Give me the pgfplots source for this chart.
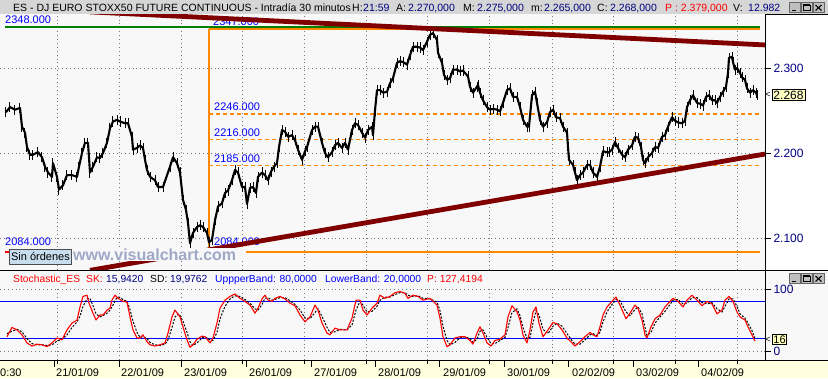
\documentclass[border=0pt]{standalone}
\usepackage{pgfplots}
\pgfplotsset{compat=1.18}
\usepackage{fontspec}
\setmainfont{Liberation Sans}
\definecolor{bg}{RGB}{248,248,248}
\definecolor{titlebg}{RGB}{214,214,214}
\definecolor{datebg}{RGB}{255,255,222}
\definecolor{navy}{RGB}{0,0,128}
\definecolor{trend}{RGB}{128,0,0}
\definecolor{fibor}{RGB}{255,136,0}
\definecolor{fibgreen}{RGB}{0,128,0}
\definecolor{wm}{RGB}{160,168,200}
\definecolor{sinbg}{RGB}{200,222,238}
\definecolor{boxy}{RGB}{255,255,192}
\definecolor{gridc}{RGB}{120,120,120}
\newcommand\fs[1]{\fontsize{#1}{#1}\selectfont}

\pgfplotstableread{
x p
6 2248
10 2254
15 2251
20 2253
22 2231
25 2224
27 2207
30 2198
33 2198
38 2201
42 2195
45 2184
48 2177
52 2172
53 2188
57 2172
59 2157
63 2162
67 2174
72 2174
77 2172
79 2184
82 2200
85 2212
88 2212
90 2177
93 2184
97 2195
100 2194
103 2200
107 2212
110 2229
113 2237
117 2239
120 2237
125 2235
128 2235
132 2219
133 2204
137 2206
140 2209
143 2206
145 2192
147 2180
150 2172
155 2168
158 2160
163 2160
170 2184
173 2195
177 2188
180 2177
183 2145
186 2133
188 2118
190 2094
193 2106
197 2113
200 2115
203 2113
207 2106
209 2095
212 2098
215 2121
218 2137
222 2141
225 2153
228 2156
232 2168
235 2180
238 2177
242 2160
245 2160
247 2140
250 2159
253 2160
256 2153
258 2172
262 2177
265 2174
268 2168
271 2178
274 2184
277 2188
279 2207
282 2227
285 2225
288 2219
292 2221
295 2215
298 2204
302 2192
305 2202
307 2207
312 2227
315 2231
318 2231
322 2212
325 2200
328 2195
332 2201
335 2209
338 2212
342 2206
345 2212
348 2204
352 2227
355 2235
358 2233
362 2224
365 2218
368 2227
372 2231
373 2221
375 2250
377 2274
380 2274
383 2271
387 2272
390 2282
393 2288
397 2306
400 2308
403 2307
407 2304
410 2315
413 2325
417 2325
420 2324
423 2321
427 2331
430 2339
433 2341
437 2333
438 2318
442 2306
444 2292
447 2286
450 2288
453 2298
457 2298
460 2296
463 2297
468 2290
470 2278
473 2271
477 2278
478 2280
480 2271
483 2262
487 2254
490 2251
493 2252
497 2251
500 2249
503 2259
507 2274
510 2276
513 2266
517 2266
520 2254
523 2239
527 2231
529 2231
532 2268
535 2272
537 2259
540 2239
543 2231
547 2236
550 2248
553 2251
556 2242
560 2241
563 2231
567 2224
568 2207
569 2192
573 2186
575 2177
577 2168
580 2174
583 2177
587 2186
590 2186
593 2177
597 2172
600 2184
603 2202
607 2201
609 2201
612 2204
615 2213
618 2206
622 2198
625 2195
628 2204
632 2209
635 2219
638 2218
641 2207
643 2192
645 2188
648 2195
652 2200
655 2207
658 2206
662 2219
665 2221
668 2231
672 2242
675 2238
678 2236
682 2235
685 2238
687 2254
690 2262
693 2268
697 2259
700 2258
703 2256
706 2266
709 2268
712 2262
715 2262
717 2259
720 2266
723 2272
726 2278
728 2294
729 2312
732 2313
733 2307
735 2298
737 2300
740 2294
742 2289
745 2286
747 2276
750 2271
753 2274
756 2271
757 2268
}\price

\pgfplotstableread{
x v
7 23
12 38
17 34
22 26
27 13
32 8
37 11
42 10
47 7
52 13
57 21
62 18
67 34
72 45
77 50
80 71
83 88
87 90
89 77
93 61
96 50
100 58
103 58
107 66
110 69
112 82
115 90
118 85
123 80
127 79
130 55
133 34
137 21
140 21
143 26
147 15
150 10
155 8
160 10
165 13
168 29
172 55
175 66
180 55
183 39
187 18
190 6
193 10
197 19
202 24
205 23
210 13
213 21
217 45
220 69
225 82
230 88
235 92
240 85
245 80
250 74
255 61
258 69
262 84
265 90
268 82
272 80
275 85
280 88
285 84
290 77
295 73
300 58
305 47
310 55
315 74
318 66
322 45
327 29
330 26
335 37
340 34
347 34
352 53
356 82
360 82
363 66
367 58
372 69
377 77
380 90
385 85
390 88
395 94
400 96
405 93
408 85
413 90
418 88
423 82
430 85
437 74
440 53
443 23
447 7
450 10
455 21
460 23
465 23
470 17
473 11
477 29
480 39
483 29
487 13
491 8
495 17
500 19
505 26
508 55
512 73
517 63
520 50
523 26
527 13
530 34
533 63
536 71
539 45
543 23
548 34
553 46
557 44
562 34
567 21
572 13
575 8
580 15
585 23
590 30
593 26
597 23
600 39
603 58
607 71
612 80
616 87
620 74
626 52
630 61
635 74
638 69
642 50
645 26
647 21
651 39
655 52
660 58
665 71
670 80
673 85
678 80
683 71
687 82
692 90
697 82
702 73
707 80
712 76
717 60
722 66
725 82
729 88
733 80
737 63
740 55
745 50
748 39
752 26
755 16
}\sk

\pgfplotstableread{
x v
7 28
12 32
17 35
22 31
27 20
32 12
37 10
42 10
47 9
52 10
57 16
62 19
67 26
72 38
77 47
80 56
83 72
87 84
90 85
93 73
96 60
100 55
103 57
107 61
110 66
113 74
116 84
119 87
123 83
127 80
130 67
133 48
137 30
140 22
143 23
147 20
150 14
155 10
160 9
165 11
168 18
172 38
175 55
179 60
183 48
187 30
190 15
193 9
197 13
202 21
205 23
210 18
213 17
217 30
220 52
225 72
230 84
235 89
240 88
245 83
250 77
255 68
258 66
262 75
265 85
268 86
272 82
275 83
280 86
285 86
290 81
295 75
300 66
305 53
310 52
315 62
318 68
322 56
327 38
330 30
335 31
340 35
347 34
352 42
356 66
360 80
363 74
367 63
372 64
377 72
380 82
385 87
390 87
395 91
400 94
405 94
408 90
413 88
418 89
423 85
430 84
437 79
440 65
443 40
447 17
450 10
455 14
460 21
465 23
470 20
473 14
477 19
480 32
483 34
487 22
491 12
495 12
500 17
505 22
508 38
512 62
517 68
520 57
523 38
527 20
530 22
533 45
536 65
539 58
543 35
548 28
553 40
557 45
562 40
567 28
572 17
575 11
580 11
585 18
590 26
593 28
597 25
600 30
603 47
607 63
612 75
616 83
620 81
626 63
630 57
635 67
638 71
642 60
645 38
647 25
651 30
655 45
660 55
665 64
670 75
673 82
678 83
683 76
687 77
692 86
697 86
702 78
707 76
712 78
717 68
722 63
725 72
729 84
733 84
737 72
740 60
745 53
748 45
752 33
755 20
}\sd

\begin{document}
\begin{tikzpicture}[x=1pt,y=1pt]
\useasboundingbox (0,-378) rectangle (828,0);
\fill[bg] (0,-378) rectangle (828,0);
\fill[white] (765,-14) rectangle (828,-270);
\fill[titlebg] (0,-14) rectangle (828,0);
\fill[datebg] (0,-378) rectangle (828,-360);

% level labels (drawn below the lines)
\begin{scope}[every node/.style={inner sep=0pt, anchor=base west, font=\fs{11}, text=blue}]
\node at (5,-23) {2348.000};
\node at (213,-25) {2347.000};
\node at (214,-110) {2246.000};
\node at (214,-136) {2216.000};
\node at (214,-162) {2185.000};
\node at (214,-245.5) {2084.000};
\node at (5,-245.5) {2084.000};
\end{scope}

% ---------- main price panel ----------
\begin{axis}[at={(0pt,-270pt)}, anchor=south west, width=765pt, height=256pt,
  scale only axis, xmin=0, xmax=765, ymin=2062.4, ymax=2363.5,
  axis line style={draw=none},
  xtick={57,119,181,242,304,366,427,489,552,613,675,737}, xticklabels={},
  xtick style={draw=none},
  ytick={2100,2200,2300}, yticklabels={2.100,2.200,2.300},
  ytick pos=right, tick align=outside, major tick length=6pt,
  ytick style={black, line width=0.8pt},
  yticklabel style={font=\fs{12}, text=navy, xshift=-1pt},
  grid=major, major grid style={gridc, line width=0.8pt, dash pattern=on 0.9pt off 3pt},
  clip=true]
% fib levels
\addplot[fibgreen, line width=1.8pt] coordinates {(5,2348) (760,2348)};
\addplot[red, line width=1.8pt] coordinates {(5,2084) (75,2084)};
\addplot[fibor, line width=1.8pt] coordinates {(209,2346.2) (760,2346.2)};
\addplot[fibor, line width=1.8pt] coordinates {(209,2346.2) (209,2084)};
\addplot[fibor, line width=1.8pt] coordinates {(209,2084) (760,2084)};
\addplot[fibor, line width=1.2pt, dash pattern=on 4pt off 3pt] coordinates {(209,2246) (760,2246)};
\addplot[fibor, line width=1.2pt, dash pattern=on 4pt off 3pt] coordinates {(209,2216) (760,2216)};
\addplot[fibor, line width=1.2pt, dash pattern=on 4pt off 3pt] coordinates {(209,2185) (760,2185)};
% price
\addplot[black, line width=2.1pt, line join=round,
  error bars/.cd, y dir=both, y fixed=6, error mark=none,
  error bar style={black, line width=1pt}] table[x=x, y=p] {\price};
% trend lines
\addplot[trend, line width=4.8pt] coordinates {(90,2366) (765,2327.1)};
\addplot[trend, line width=4.8pt] coordinates {(90,2062) (765,2198.8)};
\end{axis}

% ---------- stochastic panel ----------
\begin{axis}[at={(0pt,-360pt)}, anchor=south west, width=765pt, height=73pt,
  scale only axis, xmin=0, xmax=765, ymin=-14.5, ymax=103.2,
  axis line style={draw=none},
  xtick={57,119,181,242,304,366,427,489,552,613,675,737}, xticklabels={},
  xtick style={draw=none},
  ytick={0,100}, yticklabels={0,100},
  ytick pos=right, tick align=outside, major tick length=6pt,
  ytick style={black, line width=0.8pt},
  yticklabel style={font=\fs{12}, text=navy, xshift=-1pt},
  grid=major, major grid style={gridc, line width=0.8pt, dash pattern=on 0.9pt off 3pt},
  clip=true]
\addplot[blue, line width=1.1pt] coordinates {(0,80) (765,80)};
\addplot[blue, line width=1.1pt] coordinates {(0,20) (765,20)};
\addplot[black, line width=1pt, dash pattern=on 2pt off 1.5pt] table[x=x, y=v] {\sd};
\addplot[red, line width=1.1pt, line join=round] table[x=x, y=v] {\sk};
\end{axis}

% frame lines
\draw[black, line width=1pt] (0,-270) -- (828,-270);
\draw[black, line width=1pt] (0,-360) -- (828,-360);
\draw[black, line width=1pt] (765,-14) -- (765,-360);
\draw[black, line width=0.8pt] (765,-14.5) -- (828,-14.5);

% watermark and order box
\fill[bg] (72,-247.8) rectangle (246,-261);
\node[inner sep=0pt, text=wm, font=\fs{16}\bfseries, anchor=base west] at (73,-260) {www.visualchart.com};
\node[draw=black!70, line width=0.8pt, fill=sinbg, inner sep=1.5pt, font=\fs{11}, minimum width=62pt, minimum height=15pt] at (40.5,-256.8) {Sin órdenes};

% last value boxes
\node[font=\fs{9}, inner sep=0pt] at (768,-95) {<};
\node[draw=black, line width=0.7pt, fill=boxy, inner sep=1.5pt, font=\fs{12}, text=black!80!navy] at (788.5,-95) {2.268};
\node[font=\fs{9}, inner sep=0pt] at (768,-340) {<};
\node[draw=black, line width=0.7pt, fill=boxy, inner sep=1pt, font=\fs{11}] at (779.5,-339.5) {16};

% title bar
\begin{scope}[every node/.style={inner sep=0pt, anchor=base west, font=\fs{10.5}}]
\node at (13,-11) {ES - DJ EURO STOXX50 FUTURE CONTINUOUS - Intradía 30 minutos};
\node at (352,-11) {H:};
\node[text=navy] at (363,-11) {21:59};
\node at (396,-11) {A:};
\node[text=navy] at (408,-11) {2.270,000};
\node at (463,-11) {M:};
\node[text=navy] at (477,-11) {2.275,000};
\node at (531,-11) {m:};
\node[text=navy] at (544,-11) {2.265,000};
\node at (597,-11) {C:};
\node[text=navy] at (610,-11) {2.268,000};
\node[text=red] at (665,-11) {P : 2.379,000};
\node at (733,-11) {V:};
\node[text=navy] at (748,-11) {12.982};
\end{scope}

% stochastic header
\begin{scope}[every node/.style={inner sep=0pt, anchor=base west, font=\fs{10.3}}]
\node[text=red] at (13,-282) {Stochastic\_ES};
\node[text=red] at (86,-282) {SK:};
\node[text=navy] at (106,-282) {15,9420};
\node at (150,-282) {SD:};
\node[text=navy] at (170,-282) {19,9762};
\node[text=blue] at (215,-282) {UppperBand: 80,0000};
\node[text=blue] at (325,-282) {LowerBand: 20,0000};
\node[text=red] at (427,-282) {P: 127,4194};
\end{scope}

% window buttons
\foreach \yy in {-2.5,-273.5}{
  \foreach \xx/\s in {789/0,801/1,813/2}{
    \fill[black!25] (\xx,\yy) rectangle ++(11,-10);
    \draw[black!60, line width=0.6pt] (\xx,\yy) rectangle ++(11,-10);
  }
  \draw[black, line width=1.2pt] (791.5,\yy-8) -- (796,\yy-8);
  \draw[black, line width=0.8pt] (803,\yy-2.5) rectangle (810,\yy-8);
  \draw[black, line width=0.8pt] (803,\yy-2.2) -- (810,\yy-2.2);
  \draw[black, line width=1.1pt] (815.5,\yy-2.5) -- (821.5,\yy-8) (815.5,\yy-8) -- (821.5,\yy-2.5);
}

% date strip
\foreach \xx in {54,119,181,246,311,375,439,504,568,633,698}{
  \draw[black, line width=0.8pt] (\xx,-360) -- (\xx,-367);
}
\foreach \xx in {57,119,181,242,304,366,427,489,552,613,675,737}{
  \draw[black, line width=0.8pt] (\xx,-360) -- (\xx,-364);
}
\begin{scope}[every node/.style={inner sep=0pt, anchor=base west, font=\fs{11}}]
\node at (0,-376) {0:30};
\node at (56,-376) {21/01/09};
\node at (121,-376) {22/01/09};
\node at (184,-376) {23/01/09};
\node at (249,-376) {26/01/09};
\node at (314,-376) {27/01/09};
\node at (378,-376) {28/01/09};
\node at (443,-376) {29/01/09};
\node at (507,-376) {30/01/09};
\node at (572,-376) {02/02/09};
\node at (636,-376) {03/02/09};
\node at (701,-376) {04/02/09};
\end{scope}
\end{tikzpicture}
\end{document}
